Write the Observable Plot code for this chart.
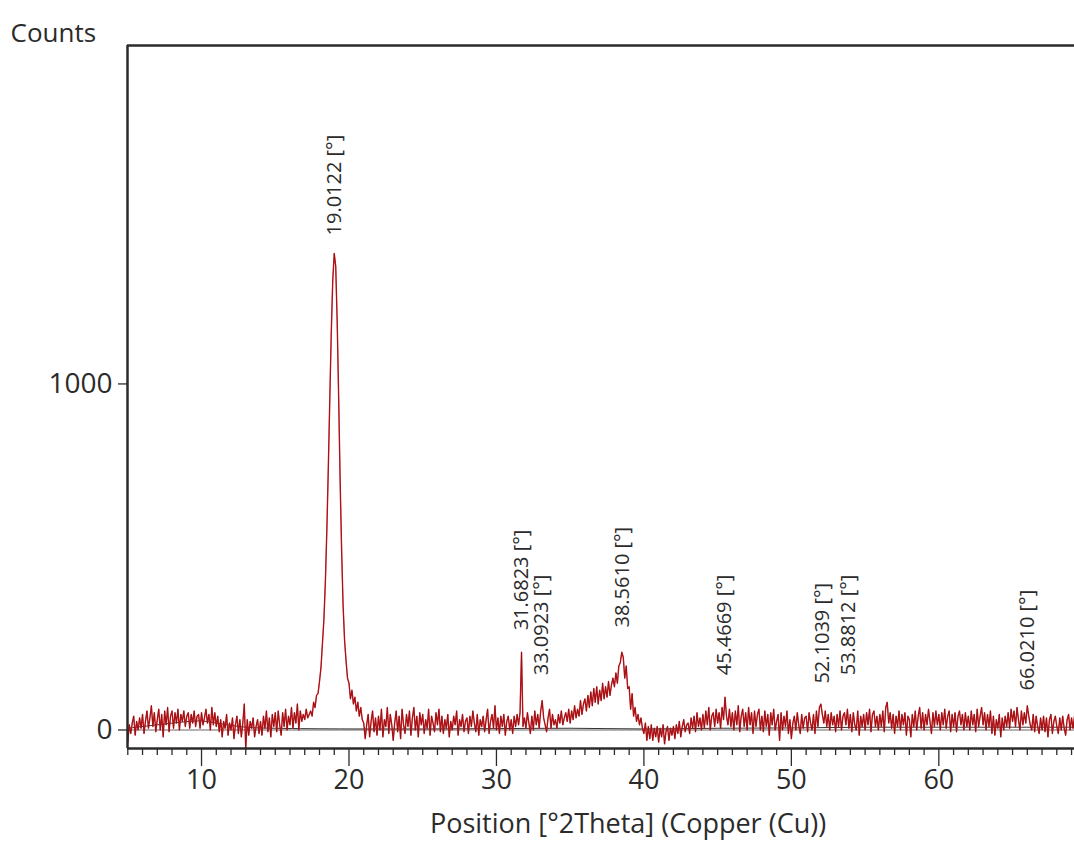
<!DOCTYPE html>
<html>
<head>
<meta charset="utf-8">
<script src="https://cdn.jsdelivr.net/npm/d3@7"></script>
<script src="https://cdn.jsdelivr.net/npm/@observablehq/plot@0.6"></script>
<style>
  html, body { margin: 0; padding: 0; background: #fff; }
  #chart { width: 1074px; height: 848px; overflow: hidden; }
</style>
</head>
<body>
<div id="chart"></div>
<script>
// ---- Data ----
const scanStart = 5.0;   // °2Theta of the first point
const scanStep = 0.1;    // °2Theta step
const counts = [
  -35, 15, -10, 20, 40, -15, 25, 0, 35, 5,          // 5
  45, -10, 25, 55, 5, 35, 70, 10, 50, -5,           // 6
  30, 60, 0, 45, -20, 55, 15, 65, -5, 40,           // 7
  55, 5, 50, 20, 60, 0, 45, 25, 55, 10,             // 8
  40, 50, 5, 45, 20, 55, 10, 40, 45, 5,             // 9
  50, 15, 35, 60, 20, 45, 0, 65, 15, 50,            // 10
  10, 40, -5, 30, -20, 25, 5, 45, -15, 20,          // 11
  0, 35, -25, 15, 40, -10, 30, -20, 20, 75,         // 12
  -55, 30, -15, 25, 5, 35, -20, 10, 30, -10,        // 13
  25, -15, 40, 5, 55, -5, 35, -20, 45, 10,          // 14
  50, -5, 55, 15, -15, 50, 10, 60, 0, 40,           // 15
  15, 65, 5, 50, 20, 75, 0, 55, 25, 45,             // 16
  30, 60, 35, 45, 55, 40, 80, 65, 100, 105,         // 17
  140, 180, 250, 320, 430, 580, 760, 960, 1150, 1300, // 18
  1377, 1340, 1180, 960, 720, 520, 360, 260, 200, 150, // 19
  135, 90, 115, 75, 95, 55, 80, 40, 65, 30,         // 20
  20, -25, 15, 45, -20, 25, 55, -5, 35, -15,        // 21
  40, 0, 60, -20, 30, 10, 65, -10, 45, 15,          // 22
  -30, 20, 55, -5, 40, -25, 60, 15, -10, 45,        // 23
  10, 55, -15, 35, 65, 0, 40, -20, 50, 15,          // 24
  45, -10, 30, 5, 60, -15, 40, 20, -5, 50,          // 25
  15, 60, -5, 40, -10, 30, 5, 45, -20, 25,          // 26
  0, 40, 15, 55, -15, 30, 10, 45, -5, 25,           // 27
  35, -10, 40, 10, 55, 20, -5, 45, -15, 30,         // 28
  10, 40, -5, 30, 60, -10, 25, 45, 5, 70,           // 29
  0, 35, -10, 40, 10, 45, -15, 25, 40, 0,           // 30
  30, -10, 40, 10, 45, 15, 50, 225, 10, 35,         // 31
  5, 50, 20, -10, 40, 0, 55, 15, 45, 5,             // 32
  55, 85, 35, 15, -5, 35, 60, 5, 45, 15,            // 33
  30, 5, 45, 20, 55, 15, 35, 50, 25, 60,            // 34
  20, 55, 30, 70, 35, 60, 40, 85, 45, 75,           // 35
  90, 55, 100, 65, 110, 70, 120, 80, 125, 75,       // 36
  115, 85, 135, 90, 125, 95, 140, 100, 130, 150,    // 37
  125, 165, 135, 185, 195, 225, 210, 150, 185, 120, // 38
  125, 60, 105, 40, 65, 25, 45, 15, 35, 5,          // 39
  -10, 20, -30, 10, -25, 15, -30, 5, -20, 10,       // 40
  -35, 5, -20, 15, -40, -5, 10, -30, 5, -15,        // 41
  10, -25, 15, -10, 25, -20, 10, 30, -5, 15,        // 42
  20, -10, 35, 5, 40, -5, 50, 10, 35, 0,            // 43
  45, 5, 55, 15, 65, 0, 40, 50, 10, 60,             // 44
  20, 50, 5, 65, 30, 95, 40, 15, 60, 10,            // 45
  50, 0, 55, 15, 70, -5, 40, 60, 10, 50,            // 46
  0, 65, 15, 50, -10, 55, 10, 45, 60, 0,            // 47
  40, -5, 55, 10, 45, -15, 50, 15, 60, 0,           // 48
  25, 45, -30, 50, 0, 40, 10, 55, -10, 30,          // 49
  -25, 20, 40, 0, 50, 15, -10, 45, 5, 35,           // 50
  40, -5, 50, 20, 0, 45, -10, 55, 10, 65,           // 51
  75, 45, 20, 55, 10, 45, 0, 50, 15, 40,            // 52
  -5, 45, 10, 55, 0, 40, 50, 15, 60, 5,             // 53
  45, -5, 50, 15, 0, 55, -15, 40, 10, 45,           // 54
  0, 50, 15, 60, -5, 45, 55, 10, 40, 0,             // 55
  45, 10, 55, -5, 65, 80, 20, 50, 5, 45,            // 56
  -10, 40, 10, 55, 0, 45, 15, 50, -15, 40,          // 57
  30, -20, 45, 10, 55, 0, 40, 65, 5, 50,            // 58
  0, 45, 15, 60, 25, -10, 50, 10, 55, 15,           // 59
  45, 0, 50, 15, 60, 5, 40, 55, -5, 45,             // 60
  10, 50, -5, 40, 55, 15, 45, 0, 50, 10,            // 61
  40, 0, 55, 15, 45, -5, 60, 10, 40, 65,            // 62
  15, 50, 0, 45, 10, 55, -10, 40, -15, 30,          // 63
  5, 45, -20, 35, 0, 40, 10, 50, 5, 60,             // 64
  25, 55, 10, 65, 30, 0, 55, 15, 50, 20,            // 65
  70, 40, 15, 0, 45, -5, 40, 10, -10, 35,           // 66
  0, 40, -5, 35, -20, 30, 45, -10, 25, 40,          // 67
  10, -10, 35, 0, 40, 5, -15, 30, 45, 0,            // 68
  35, 5, 40                                         // 69
];

// background curve (dark line)
const bgAngles = [5, 7, 9, 10, 11, 13, 15, 20, 25, 30, 35, 40, 45, 50, 55, 60, 65, 69.2];
const bgCounts = [5, 15, 24, 26, 20, 8, 5, 3, 3, 4, 5, 3, 5, 6, 8, 8, 8, 8];

// labelled peaks
const peakPositions = [19.0122, 31.6823, 33.0923, 38.5610, 45.4669, 52.1039, 53.8812, 66.0210];
const peakLabelCounts = [1429, 288, 158, 296, 158, 134, 158, 114];

// axes
const xDomain = [4.98, 69.2];
const yDomain = [-53.5, 1978];
const xMajorTicks = [10, 20, 30, 40, 50, 60];
const xMinorTicks = d3.range(5, 70).filter(d => d % 10 !== 0);
const yTicks = [0, 1000];
const yTitle = "Counts";
const xTitle = "Position [°2Theta] (Copper (Cu))";

// ---- Build ----
const scan = counts.map((c, i) => ({theta: +(scanStart + i * scanStep).toFixed(2), count: c}));
const background = bgAngles.map((a, i) => ({theta: a, count: bgCounts[i]}));
const peaks = peakPositions.map((p, i) => ({theta: p, count: peakLabelCounts[i], label: `${p.toFixed(4)} [°]`}));

const font = "'Open Sans', 'Noto Sans', sans-serif";
const ink = "#2b2b2b";

const chart = Plot.plot({
  width: 1074,
  height: 848,
  marginLeft: 127,
  marginRight: 0,
  marginTop: 45,
  marginBottom: 100,
  style: {fontFamily: font, background: "#fff", color: ink, overflow: "visible"},
  x: {domain: xDomain, axis: null},
  y: {domain: yDomain, axis: null},
  marks: [
    // zero baseline
    Plot.ruleY([0], {stroke: "#9a9a9a", strokeWidth: 1.5}),
    // background curve
    Plot.line(background, {x: "theta", y: "count", stroke: "#333", strokeWidth: 1, curve: "catmull-rom"}),
    // measured pattern
    Plot.line(scan, {x: "theta", y: "count", stroke: "#d8161c", strokeWidth: 1.4}),
    Plot.line(scan, {x: "theta", y: "count", stroke: "#5a1414", strokeWidth: 0.6, strokeOpacity: 0.75}),
    // frame (left, top, bottom)
    Plot.ruleX([xDomain[0]], {y1: yDomain[0], y2: yDomain[1], stroke: ink, strokeWidth: 2.5}),
    Plot.ruleY([yDomain[1]], {stroke: ink, strokeWidth: 2.5}),
    Plot.ruleY([yDomain[0]], {stroke: ink, strokeWidth: 2.5}),
    // axes
    Plot.axisX({ticks: xMinorTicks, tickSize: 7, text: null, stroke: ink, strokeWidth: 1.3, label: null}),
    Plot.axisX({ticks: xMajorTicks, tickSize: 18, tickPadding: 3, fontSize: 27, stroke: ink, strokeWidth: 1.3, label: null, tickFormat: d => String(d)}),
    Plot.axisY({ticks: yTicks, tickSize: 9, tickPadding: 6, fontSize: 28, stroke: ink, strokeWidth: 1.3, label: null, tickFormat: d => String(d)}),
    // titles
    Plot.text([yTitle], {frameAnchor: "top-left", dx: -117, dy: -22, textAnchor: "start", fontSize: 26, fill: ink}),
    Plot.text([xTitle], {frameAnchor: "bottom", dx: 27, dy: 84, fontSize: 27, fill: ink}),
    // peak labels
    Plot.text(peaks, {x: "theta", y: "count", text: "label", rotate: -90, textAnchor: "start", lineAnchor: "middle", fontSize: 20, fill: ink})
  ]
});
document.getElementById("chart").appendChild(chart);
</script>
</body>
</html>
